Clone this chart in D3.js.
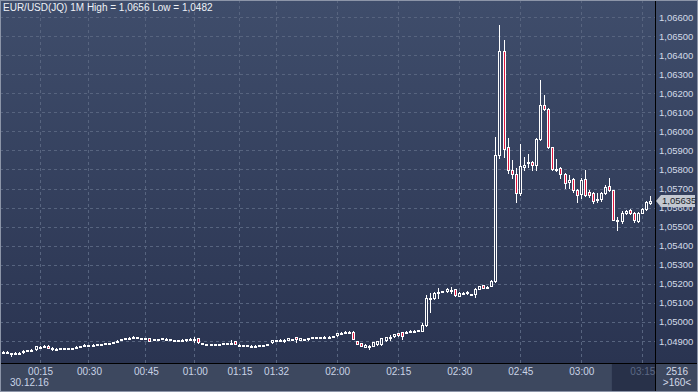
<!DOCTYPE html>
<html lang="en">
<head>
  <meta charset="UTF-8">
  <title>EUR/USD 1M</title>
  <script src="https://d3js.org/d3.v7.min.js"></script>
  <style>
    body { margin: 0; background: #2b3550; }
    text { font-family: "Liberation Sans", Arial, sans-serif; }
  </style>
</head>
<body>
  <svg width="698" height="392"></svg>
  <script>
    // 1-minute candles, 160 bars
    const open = [
      1.04843,1.04842,1.04835,1.04836,1.04838,1.04846,1.04850,1.04853,1.04856,1.04870,
      1.04872,1.04876,1.04856,1.04859,1.04860,1.04861,1.04860,1.04861,1.04868,1.04871,
      1.04878,1.04879,1.04880,1.04882,1.04884,1.04887,1.04888,1.04892,1.04900,1.04908,
      1.04913,1.04916,1.04922,1.04921,1.04916,1.04914,1.04917,1.04909,1.04911,1.04913,
      1.04913,1.04908,1.04906,1.04905,1.04906,1.04908,1.04910,1.04909,1.04917,1.04884,
      1.04883,1.04883,1.04882,1.04883,1.04890,1.04886,1.04889,1.04900,1.04881,1.04879,
      1.04878,1.04876,1.04875,1.04876,1.04877,1.04883,1.04893,1.04903,1.04906,1.04907,
      1.04907,1.04910,1.04921,1.04905,1.04910,1.04909,1.04920,1.04921,1.04920,1.04922,
      1.04923,1.04924,1.04930,1.04943,1.04945,1.04946,1.04949,1.04900,1.04889,1.04870,
      1.04876,1.04875,1.04883,1.04886,1.04903,1.04920,1.04925,1.04941,1.04945,1.04946,
      1.04951,1.04953,1.04956,1.04954,1.04984,1.05126,1.05123,1.05153,1.05158,1.05161,
      1.05168,1.05171,1.05136,1.05153,1.05154,1.05147,1.05144,1.05174,1.05192,1.05183,
      1.05188,1.05213,1.05877,1.06419,1.05917,1.05798,1.05777,1.05674,1.05815,1.05836,
      1.05840,1.05822,1.05960,1.06139,1.06116,1.05917,1.05796,1.05807,1.05777,1.05732,
      1.05750,1.05693,1.05672,1.05748,1.05683,1.05675,1.05644,1.05645,1.05675,1.05714,
      1.05690,1.05535,1.05532,1.05570,1.05588,1.05574,1.05532,1.05574,1.05591,1.05625
    ];
    const high = [
      1.04845,1.04845,1.04837,1.04841,1.04840,1.04851,1.04854,1.04857,1.04874,1.04873,
      1.04877,1.04878,1.04867,1.04862,1.04862,1.04862,1.04862,1.04865,1.04872,1.04874,
      1.04883,1.04881,1.04882,1.04885,1.04886,1.04889,1.04889,1.04895,1.04904,1.04911,
      1.04916,1.04919,1.04928,1.04923,1.04917,1.04915,1.04918,1.04913,1.04913,1.04917,
      1.04915,1.04909,1.04907,1.04907,1.04908,1.04910,1.04914,1.04923,1.04918,1.04891,
      1.04884,1.04884,1.04884,1.04885,1.04891,1.04888,1.04905,1.04901,1.04882,1.04881,
      1.04879,1.04877,1.04877,1.04878,1.04879,1.04886,1.04906,1.04904,1.04908,1.04908,
      1.04918,1.04912,1.04922,1.04915,1.04913,1.04918,1.04922,1.04923,1.04922,1.04924,
      1.04925,1.04926,1.04944,1.04945,1.04952,1.04953,1.04950,1.04902,1.04891,1.04882,
      1.04879,1.04897,1.04900,1.04915,1.04922,1.04932,1.04939,1.04943,1.04946,1.04953,
      1.04956,1.04956,1.04960,1.04992,1.05140,1.05152,1.05158,1.05178,1.05163,1.05178,
      1.05185,1.05173,1.05156,1.05156,1.05161,1.05149,1.05176,1.05190,1.05194,1.05190,
      1.05218,1.05969,1.06560,1.06480,1.05964,1.05850,1.05808,1.05934,1.05868,1.05880,
      1.05845,1.05963,1.06270,1.06191,1.06120,1.05920,1.05853,1.05815,1.05780,1.05770,
      1.05753,1.05696,1.05753,1.05798,1.05690,1.05683,1.05679,1.05683,1.05717,1.05753,
      1.05692,1.05552,1.05584,1.05586,1.05590,1.05578,1.05579,1.05600,1.05637,1.05660
    ];
    const low = [
      1.04838,1.04836,1.04820,1.04833,1.04834,1.04838,1.04847,1.04850,1.04854,1.04866,
      1.04870,1.04863,1.04854,1.04857,1.04858,1.04858,1.04858,1.04859,1.04866,1.04869,
      1.04876,1.04876,1.04874,1.04880,1.04882,1.04882,1.04882,1.04890,1.04898,1.04906,
      1.04911,1.04914,1.04920,1.04918,1.04912,1.04910,1.04900,1.04906,1.04909,1.04911,
      1.04903,1.04904,1.04902,1.04903,1.04904,1.04900,1.04904,1.04897,1.04891,1.04882,
      1.04880,1.04879,1.04878,1.04879,1.04883,1.04884,1.04888,1.04882,1.04878,1.04877,
      1.04875,1.04873,1.04873,1.04874,1.04875,1.04881,1.04892,1.04898,1.04904,1.04893,
      1.04905,1.04908,1.04893,1.04903,1.04908,1.04907,1.04918,1.04919,1.04917,1.04920,
      1.04921,1.04922,1.04928,1.04941,1.04943,1.04944,1.04909,1.04882,1.04874,1.04866,
      1.04858,1.04873,1.04881,1.04880,1.04901,1.04904,1.04923,1.04928,1.04910,1.04944,
      1.04948,1.04951,1.04954,1.04952,1.04980,1.05052,1.05120,1.05126,1.05155,1.05158,
      1.05153,1.05138,1.05134,1.05150,1.05148,1.05140,1.05131,1.05172,1.05177,1.05178,
      1.05186,1.05208,1.05860,1.05868,1.05780,1.05757,1.05631,1.05668,1.05798,1.05815,
      1.05798,1.05798,1.05955,1.06110,1.05912,1.05796,1.05794,1.05755,1.05704,1.05702,
      1.05683,1.05631,1.05651,1.05662,1.05656,1.05622,1.05627,1.05637,1.05672,1.05687,
      1.05534,1.05483,1.05518,1.05566,1.05565,1.05527,1.05527,1.05570,1.05588,1.05620
    ];
    const close = [
      1.04841,1.04840,1.04832,1.04838,1.04837,1.04849,1.04852,1.04855,1.04872,1.04869,
      1.04874,1.04865,1.04865,1.04860,1.04861,1.04860,1.04861,1.04863,1.04870,1.04872,
      1.04879,1.04878,1.04881,1.04883,1.04884,1.04888,1.04888,1.04893,1.04902,1.04909,
      1.04914,1.04917,1.04923,1.04920,1.04915,1.04913,1.04902,1.04910,1.04912,1.04914,
      1.04905,1.04908,1.04905,1.04905,1.04907,1.04909,1.04910,1.04909,1.04893,1.04889,
      1.04883,1.04882,1.04883,1.04884,1.04884,1.04887,1.04890,1.04883,1.04880,1.04879,
      1.04877,1.04875,1.04875,1.04877,1.04877,1.04884,1.04905,1.04902,1.04907,1.04907,
      1.04917,1.04910,1.04910,1.04914,1.04911,1.04917,1.04921,1.04921,1.04919,1.04923,
      1.04923,1.04925,1.04942,1.04944,1.04946,1.04947,1.04910,1.04884,1.04876,1.04881,
      1.04876,1.04896,1.04899,1.04914,1.04921,1.04921,1.04938,1.04930,1.04928,1.04949,
      1.04952,1.04954,1.04957,1.04984,1.05126,1.05126,1.05154,1.05155,1.05160,1.05174,
      1.05169,1.05140,1.05154,1.05154,1.05155,1.05147,1.05174,1.05188,1.05179,1.05184,
      1.05213,1.05877,1.06419,1.05907,1.05798,1.05777,1.05676,1.05819,1.05824,1.05838,
      1.05826,1.05961,1.06138,1.06116,1.05917,1.05800,1.05805,1.05775,1.05728,1.05744,
      1.05693,1.05664,1.05745,1.05667,1.05667,1.05637,1.05645,1.05675,1.05710,1.05690,
      1.05536,1.05536,1.05574,1.05584,1.05570,1.05535,1.05574,1.05591,1.05631,1.05635
    ];

    // time axis: bar index of each labelled minute
    const tickIdx = [9, 21, 35, 47, 58, 67, 82, 97, 112, 127, 142, 157];
    const tickLabels = ['00:15', '00:30', '00:45', '01:00', '01:15', '01:32',
                        '02:00', '02:15', '02:30', '02:45', '03:00', '03:15'];
    const priceTicks = [1.049, 1.050, 1.051, 1.052, 1.053, 1.054, 1.055, 1.056, 1.057,
                        1.058, 1.059, 1.060, 1.061, 1.062, 1.063, 1.064, 1.065, 1.066];
    const lastPrice = 1.05635;

    const W = 698, H = 392;
    const plotR = 655, plotB = 363;

    const bars = open.map((o, i) => ({ i, o, h: high[i], l: low[i], c: close[i] }));

    const x = d3.scaleLinear().domain([0, 159]).range([3, 650]);
    const y = d3.scaleLinear().domain([1.049, 1.066]).range([341, 17]);
    const fmt = d3.formatLocale({ decimal: ',', thousands: '.', grouping: [3], currency: ['', ''] }).format('.5f');

    const svg = d3.select('svg');

    const grad = svg.append('defs').append('linearGradient')
      .attr('id', 'bg').attr('gradientUnits', 'userSpaceOnUse')
      .attr('x1', 0).attr('y1', 0).attr('x2', 0).attr('y2', plotB);
    grad.append('stop').attr('offset', 0).attr('stop-color', '#3f4d6b');
    grad.append('stop').attr('offset', 1).attr('stop-color', '#2a3451');

    // backgrounds
    svg.append('rect').attr('width', W).attr('height', plotB).attr('fill', 'url(#bg)');
    svg.append('rect').attr('y', plotB).attr('width', W).attr('height', H - plotB).attr('fill', '#3d485f');
    svg.append('rect').attr('x', x(157) - 30).attr('y', plotB + 1)
      .attr('width', plotR - x(157) + 30).attr('height', H - plotB - 1).attr('fill', '#283149');

    // grid
    const grid = svg.append('g').attr('stroke', '#57647f').attr('stroke-dasharray', '3,3');
    grid.selectAll('line.h')
      .data(priceTicks)
      .enter()
      .append('line')
      .attr('x1', 0).attr('x2', plotR)
      .attr('y1', d => Math.round(y(d)) + 0.5)
      .attr('y2', d => Math.round(y(d)) + 0.5);
    grid.selectAll('line.v')
      .data(tickIdx)
      .enter()
      .append('line')
      .attr('y1', 0).attr('y2', plotB)
      .attr('x1', d => Math.round(x(d)) + 0.5)
      .attr('x2', d => Math.round(x(d)) + 0.5);

    // candles
    const cg = svg.append('g');
    const cx = d => Math.round(x(d.i));
    cg.selectAll('line')
      .data(bars)
      .enter()
      .append('line')
      .attr('x1', d => cx(d) + 0.5).attr('x2', d => cx(d) + 0.5)
      .attr('y1', d => Math.round(y(d.h)))
      .attr('y2', d => Math.round(y(d.l)) + 1)
      .attr('stroke', '#fff');
    cg.selectAll('rect')
      .data(bars)
      .enter()
      .append('rect')
      .attr('x', d => cx(d) - 0.5)
      .attr('width', 2)
      .attr('y', d => Math.round(y(Math.max(d.o, d.c))) + 0.5)
      .attr('height', d => Math.max(1, Math.round(y(Math.min(d.o, d.c))) - Math.round(y(Math.max(d.o, d.c)))))
      .attr('fill', d => d.c < d.o ? '#e3173f' : 'url(#bg)')
      .attr('stroke', '#fff');

    // frame lines
    svg.append('line').attr('x1', plotR + 0.5).attr('x2', plotR + 0.5).attr('y1', 0).attr('y2', H)
      .attr('stroke', '#000');
    svg.append('line').attr('x1', 0).attr('x2', W).attr('y1', plotB + 0.5).attr('y2', plotB + 0.5)
      .attr('stroke', '#000');
    svg.append('rect').attr('x', 0.5).attr('y', 0.5).attr('width', W - 1).attr('height', H - 1)
      .attr('fill', 'none').attr('stroke', '#8c95a8');

    // price axis
    const yAxis = svg.append('g')
      .attr('transform', `translate(${plotR + 2},0)`)
      .call(d3.axisRight(y).tickValues(priceTicks).tickFormat(fmt).tickSize(0).tickPadding(2));
    yAxis.select('.domain').remove();
    yAxis.selectAll('text').attr('fill', '#d3dae8').attr('font-size', '9.5px')
      .attr('font-family', '"Liberation Sans", Arial, sans-serif');

    // last price tag
    const ty = y(lastPrice);
    svg.append('path')
      .attr('d', `M${plotR + 1},${ty} L${plotR + 6},${ty - 6} L${W - 3},${ty - 6} L${W - 3},${ty + 6} L${plotR + 6},${ty + 6} Z`)
      .attr('fill', '#c3c8d1');
    svg.append('text').attr('x', plotR + 7).attr('y', ty + 3.5)
      .attr('font-size', '9.5px').attr('fill', '#1a1f2a').text(fmt(lastPrice));

    // time axis
    const xAxis = svg.append('g')
      .attr('transform', `translate(0.5,${plotB})`)
      .call(d3.axisBottom(x).tickValues(tickIdx).tickFormat((d, i) => tickLabels[i]).tickSize(0).tickPadding(5));
    xAxis.select('.domain').remove();
    xAxis.selectAll('text').attr('fill', '#c9d3e6').attr('font-size', '10px')
      .attr('font-family', '"Liberation Sans", Arial, sans-serif');
    xAxis.selectAll('text').filter((d, i) => i === tickLabels.length - 1).attr('fill', '#5c6985');

    svg.append('text').attr('x', 10).attr('y', 386).attr('font-size', '10px')
      .attr('fill', '#c9d3e6').text('30.12.16');

    // corner box
    svg.append('text').attr('x', 677).attr('y', 375).attr('text-anchor', 'middle')
      .attr('font-size', '10px').attr('fill', '#d3dae8').text('2516');
    svg.append('text').attr('x', 677).attr('y', 386).attr('text-anchor', 'middle')
      .attr('font-size', '10px').attr('fill', '#d3dae8').text('>160<');

    // title
    svg.append('text').attr('x', 3).attr('y', 11).attr('font-size', '10px')
      .attr('fill', '#eef1f6').text('EUR/USD(JQ) 1M  High = 1,0656 Low = 1,0482');
  </script>
</body>
</html>
